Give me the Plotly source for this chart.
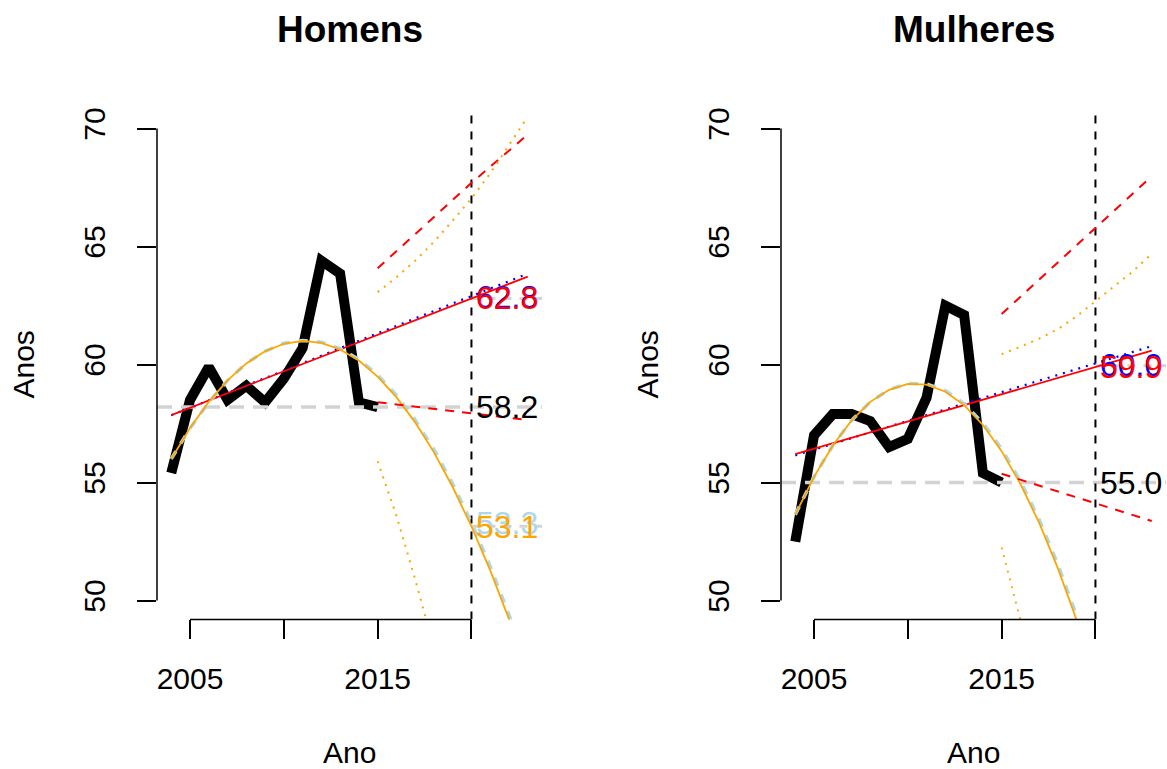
import plotly.graph_objects as go

# ---------------- data ----------------
years = list(range(2004, 2016))
homens = [55.4, 58.5, 59.9, 58.5, 59.1, 58.4, 59.4, 60.7, 64.4, 63.85, 58.4, 58.2]
mulheres = [52.5, 57.0, 57.9, 57.9, 57.6, 56.5, 56.85, 58.6, 62.5, 62.1, 55.4, 55.0]

fit_years = list(range(2004, 2024))
quad_h = [56.0, 57.31, 58.42, 59.33, 60.05, 60.56, 60.88, 61.0, 60.92, 60.64,
          60.17, 59.49, 58.62, 57.55, 56.28, 54.81, 53.14, 51.28, 49.21, 46.95]
quad_h_lb = [56.0, 57.3, 58.4, 59.33, 60.05, 60.56, 60.9, 61.02, 60.95, 60.68,
             60.22, 59.56, 58.7, 57.65, 56.4, 54.95, 53.3, 51.45, 49.4, 47.15]
quad_m = [53.64, 55.24, 56.57, 57.63, 58.42, 58.93, 59.18, 59.15, 58.85, 58.28,
          57.44, 56.33, 54.94, 53.29, 51.36, 49.16, 46.69, 43.95, 40.94, 37.66]
quad_m_lb = [53.64, 55.24, 56.57, 57.63, 58.42, 58.94, 59.2, 59.18, 58.9, 58.34,
             57.52, 56.43, 55.06, 53.43, 51.52, 49.34, 46.9, 44.2, 41.2, 37.95]

lin_years = [2004, 2023]
lin_h = [57.86, 63.73]
lin_h_blue = [57.85, 63.85]
lin_m = [56.2, 60.59]
lin_m_blue = [56.15, 60.78]

fc_mean_years = [2015, 2023]
fc_mean_h = [58.4, 57.65]
fc_mean_m = [55.37, 53.37]

fc_up_years = [2015, 2020, 2023]
fc_up_h = [64.08, 67.7, 69.75]
fc_up_m = [62.14, 65.77, 67.98]

fc_dot_years = list(range(2015, 2024))
fc_dot_up_h = [63.07, 63.7, 64.4, 65.2, 66.1, 67.04, 68.1, 69.3, 70.5]
fc_dot_up_m = [60.44, 60.75, 61.1, 61.5, 62.05, 62.68, 63.3, 63.95, 64.7]

fc_dot_lo_h_years = [2015, 2016, 2017, 2018]
fc_dot_lo_h = [55.9, 53.6, 50.9, 48.0]
fc_dot_lo_m_years = [2015, 2016, 2017]
fc_dot_lo_m = [52.25, 49.2, 46.1]

target_year = 2020
# labels at the target year: (text, value, colour)
labels_h = [("62.8", 62.85, "blue"), ("62.8", 62.8, "red"), ("58.2", 58.2, "black"),
            ("53.3", 53.3, "lightblue"), ("53.1", 53.1, "orange")]
labels_m = [("60.0", 60.0, "blue"), ("59.9", 59.9, "red"), ("55.0", 55.0, "black")]
gray_seg_h = [62.8, 53.15]
gray_seg_m = [59.95]

titles = ["Homens", "Mulheres"]
xtick_vals = [2005, 2010, 2015, 2020]
xtick_text = ["2005", "", "2015", ""]
ytick_vals = [50, 55, 60, 65, 70]

X_RANGE = [2003.24, 2023.76]
Y_RANGE = [49.2, 70.8]

W, H = 1167, 769
FONT = "Liberation Sans, Arial, Helvetica, sans-serif"
FS = 30

fig = go.Figure()

panels = [
    dict(x="x", y="y", data=homens, quad=quad_h, quad_lb=quad_h_lb, lin=lin_h, lin_b=lin_h_blue,
         mean=fc_mean_h, up=fc_up_h, dot_up=fc_dot_up_h, lo_years=fc_dot_lo_h_years, lo=fc_dot_lo_h,
         labels=labels_h, gseg=gray_seg_h),
    dict(x="x2", y="y2", data=mulheres, quad=quad_m, quad_lb=quad_m_lb, lin=lin_m, lin_b=lin_m_blue,
         mean=fc_mean_m, up=fc_up_m, dot_up=fc_dot_up_m, lo_years=fc_dot_lo_m_years, lo=fc_dot_lo_m,
         labels=labels_m, gseg=gray_seg_m),
]


def line(xs, ys, color, width, dash="solid", xa="x", ya="y"):
    fig.add_trace(go.Scatter(x=xs, y=ys, mode="lines", xaxis=xa, yaxis=ya,
                             line=dict(color=color, width=width, dash=dash),
                             showlegend=False, hoverinfo="skip"))


for p in panels:
    xa, ya = p["x"], p["y"]
    # observed series
    line(years, p["data"], "black", 10, xa=xa, ya=ya)
    # horizontal reference at last value
    line(X_RANGE, [p["data"][-1]] * 2, "#D3D3D3", 3.5, "15px,9px", xa, ya)
    # vertical target year
    line([target_year] * 2, Y_RANGE, "black", 2, "8px,8px", xa, ya)
    # gray segments at label values
    for v in p["gseg"]:
        line([target_year, X_RANGE[1]], [v, v], "#D3D3D3", 3, "8px,8px", xa, ya)
    # linear fits
    line(lin_years, p["lin_b"], "blue", 2.2, "2px,6px", xa, ya)
    line(lin_years, p["lin"], "red", 1.8, "solid", xa, ya)
    # quadratic fits
    line(fit_years, p["quad_lb"], "lightblue", 3.5, "9px,9px", xa, ya)
    line(fit_years, p["quad"], "orange", 1.8, "solid", xa, ya)
    # forecasts
    line(fc_mean_years, p["mean"], "red", 2, "9px,8px", xa, ya)
    line(fc_up_years, p["up"], "red", 2, "9px,8px", xa, ya)
    line(fc_dot_years, p["dot_up"], "orange", 2, "2px,6px", xa, ya)
    line(p["lo_years"], p["lo"], "orange", 2, "2px,6px", xa, ya)

annotations = []
for p in panels:
    for txt, v, col in p["labels"]:
        annotations.append(dict(x=target_year, y=v, xref=p["x"], yref=p["y"], text=txt,
                                showarrow=False, xanchor="left", yanchor="middle", xshift=3,
                                font=dict(family=FONT, size=32, color=col)))

dom_left = [157 / W, 542 / W]
dom_right = [781 / W, 1166 / W]
ydom = [150 / H, 661 / H]

for dom, title in zip([dom_left, dom_right], titles):
    cx = (dom[0] + dom[1]) / 2
    annotations.append(dict(x=cx, y=1 - 28 / H, xref="paper", yref="paper", text="<b>%s</b>" % title,
                            showarrow=False, xanchor="center", yanchor="middle",
                            font=dict(family=FONT, size=37, color="black")))
    annotations.append(dict(x=cx, y=1 - 752 / H, xref="paper", yref="paper", text="Ano",
                            showarrow=False, xanchor="center", yanchor="middle",
                            font=dict(family=FONT, size=FS, color="black")))
    annotations.append(dict(x=dom[0] - 133 / W, y=(ydom[0] + ydom[1]) / 2, xref="paper", yref="paper",
                            text="Anos", textangle=-90, showarrow=False, xanchor="center", yanchor="middle",
                            font=dict(family=FONT, size=FS, color="black")))

shapes = []
for xa, ya in [("x", "y"), ("x2", "y2")]:
    shapes.append(dict(type="line", xref=xa, yref=ya + " domain", x0=xtick_vals[0], x1=xtick_vals[-1],
                       y0=0, y1=0, line=dict(color="black", width=1.5)))
    shapes.append(dict(type="line", xref=xa + " domain", yref=ya, x0=0, x1=0,
                       y0=ytick_vals[0], y1=ytick_vals[-1], line=dict(color="black", width=1.5)))

axis_common = dict(showgrid=False, zeroline=False, showline=False, ticks="outside", ticklen=19,
                   tickwidth=1.5, tickcolor="black",
                   tickfont=dict(family=FONT, size=FS, color="black"))

fig.update_layout(
    width=W, height=H, autosize=False,
    margin=dict(l=0, r=0, t=0, b=0, pad=0),
    paper_bgcolor="white", plot_bgcolor="white",
    showlegend=False,
    xaxis=dict(domain=dom_left, range=X_RANGE, tickvals=xtick_vals, ticktext=xtick_text,
               anchor="y", ticklabelstandoff=14, **axis_common),
    yaxis=dict(domain=ydom, range=Y_RANGE, tickvals=ytick_vals, tickangle=-90,
               anchor="x", ticklabelstandoff=20, **axis_common),
    xaxis2=dict(domain=dom_right, range=X_RANGE, tickvals=xtick_vals, ticktext=xtick_text,
                anchor="y2", ticklabelstandoff=14, **axis_common),
    yaxis2=dict(domain=ydom, range=Y_RANGE, tickvals=ytick_vals, tickangle=-90,
                anchor="x2", ticklabelstandoff=20, **axis_common),
    annotations=annotations,
    shapes=shapes,
)

fig.write_html("out.html", config={"displayModeBar": False},
               post_script="document.body.style.margin='0px';document.body.style.overflow='hidden';")
